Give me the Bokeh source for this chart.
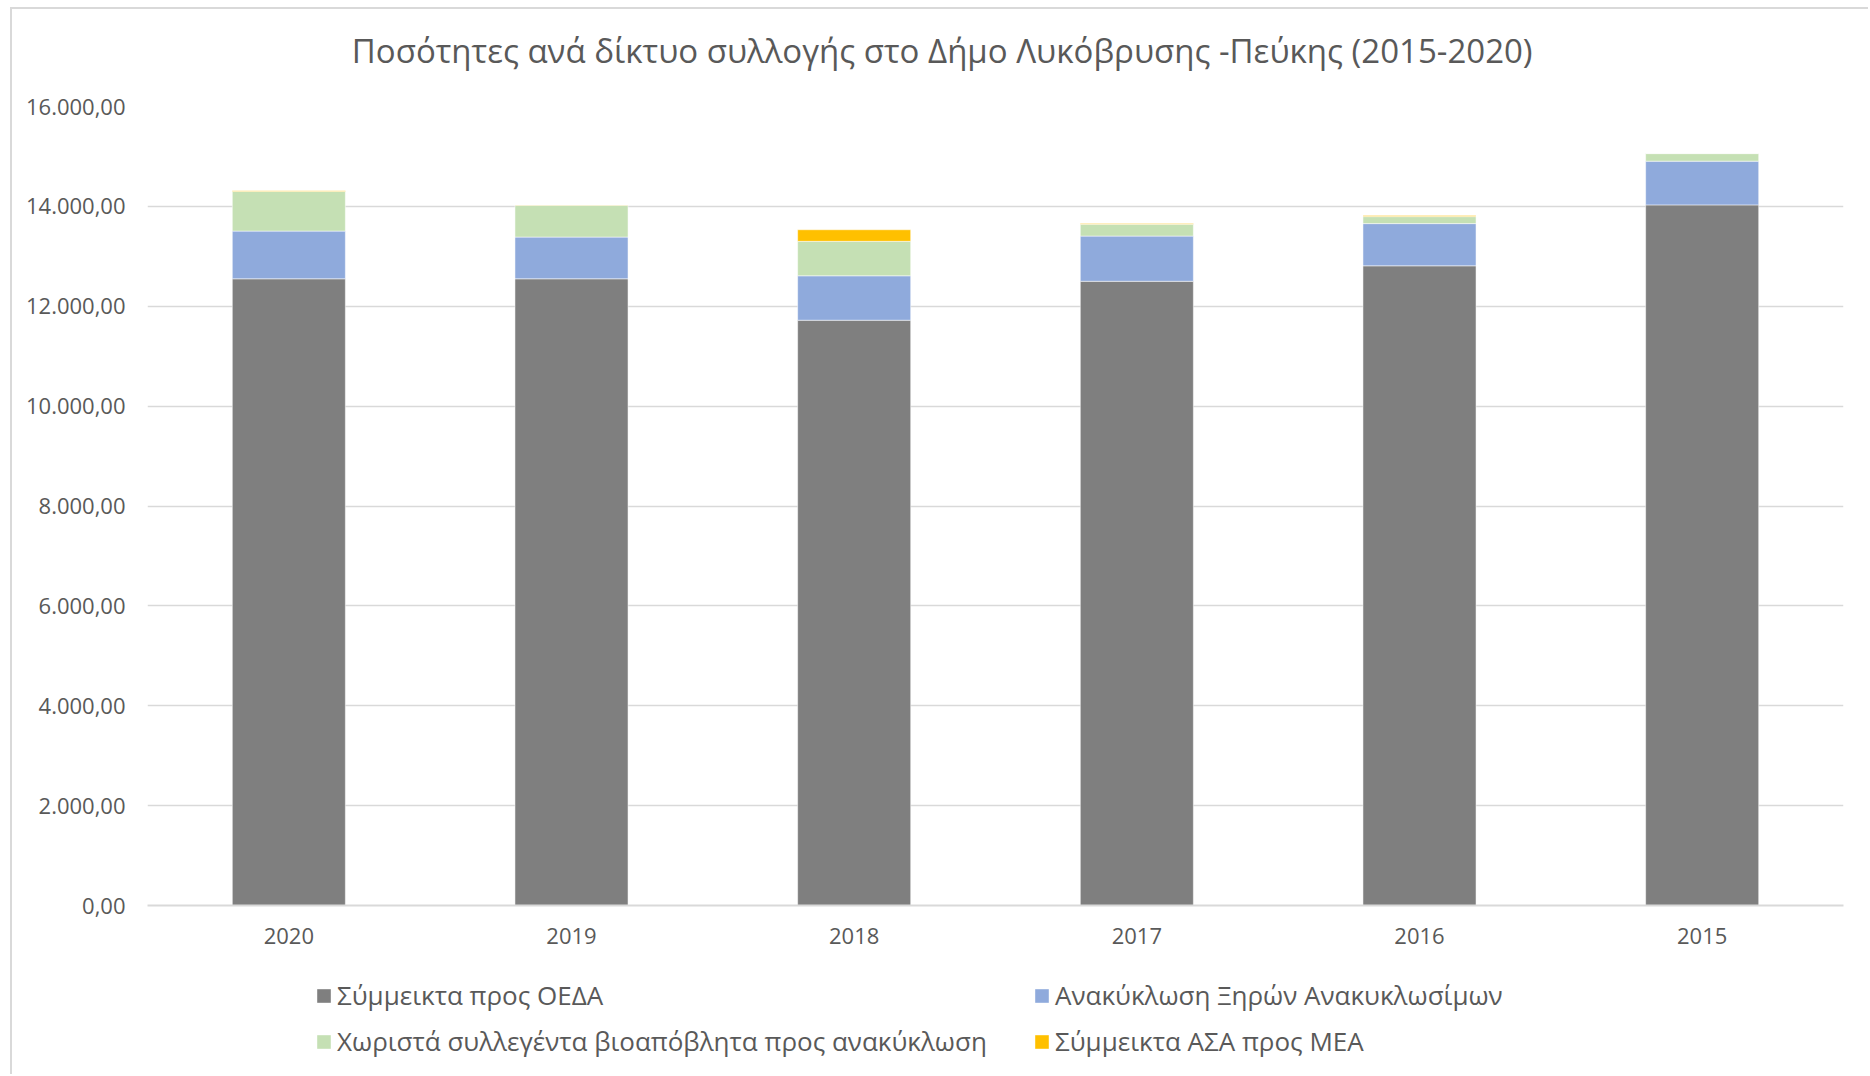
from bokeh.plotting import figure
from bokeh.layouts import column
from bokeh.models import (ColumnDataSource, FactorRange, Range1d, FixedTicker, Legend,
                          LegendItem, Label)
from bokeh.embed import file_html
from bokeh.resources import INLINE

# ---- data ----
years = ["2020", "2019", "2018", "2017", "2016", "2015"]
oeda = [12550, 12550, 11720, 12500, 12810, 14030]      # Σύμμεικτα προς ΟΕΔΑ
recycl = [955, 835, 890, 905, 845, 875]                # Ανακύκλωση Ξηρών Ανακυκλωσίμων
bio = [795, 637, 690, 235, 140, 152]                   # Χωριστά συλλεγέντα βιοαπόβλητα
mea = [12, 5, 232, 15, 20, 0]                          # Σύμμεικτα ΑΣΑ προς ΜΕΑ
series_names = ["Σύμμεικτα προς ΟΕΔΑ", "Ανακύκλωση Ξηρών Ανακυκλωσίμων",
                "Χωριστά συλλεγέντα βιοαπόβλητα προς ανακύκλωση", "Σύμμεικτα ΑΣΑ προς ΜΕΑ"]
y_ticks = [0, 2000, 4000, 6000, 8000, 10000, 12000, 14000, 16000]
y_tick_labels = ["0,00", "2.000,00", "4.000,00", "6.000,00", "8.000,00",
                 "10.000,00", "12.000,00", "14.000,00", "16.000,00"]
title_text = "Ποσότητες ανά δίκτυο συλλογής  στο Δήμο Λυκόβρυσης -Πεύκης (2015-2020)"

stackers = ["oeda", "recycl", "bio", "mea"]
colors = ["#7F7F7F", "#8FAADC", "#C5E0B4", "#FFC000"]
FONT = "Open Sans"
TXT = "#595959"
W = 1856
H_T, H_A, H_B = 82, 874, 109
FRAME_W = 1696   # plot frame width (frames of the stacked figures are aligned)

src = ColumnDataSource(dict(year=years, oeda=oeda, recycl=recycl, bio=bio, mea=mea))


def strip_figure(h, x_range, y_range):
    f = figure(width=W, height=h, x_range=x_range, y_range=y_range,
               x_axis_type=None, y_axis_type=None, output_backend="svg",
               toolbar_location=None, min_border=0)
    f.outline_line_color = None
    f.grid.visible = False
    return f


# ---- title strip ----
pt = strip_figure(H_T, Range1d(0, FRAME_W), Range1d(0, H_T))
pt.add_layout(Label(x=799, y=41, text=title_text, text_font=FONT, text_font_size="33px",
                    text_color=TXT, text_align="center", text_baseline="middle"))

# ---- chart ----
p = figure(width=W, height=H_A, x_range=FactorRange(*years), y_range=Range1d(0, 16000),
           output_backend="svg", toolbar_location=None,
           min_border_left=135, min_border_right=25, min_border_top=15, min_border_bottom=60)
p.outline_line_color = None

renderers = p.vbar_stack(stackers, x="year", width=0.4, color=colors,
                         line_color="white", line_width=1, line_alpha=0.5, source=src)

p.xgrid.grid_line_color = None
p.ygrid.grid_line_color = "#D9D9D9"
p.ygrid.grid_line_width = 1.5
p.yaxis.ticker = FixedTicker(ticks=y_ticks)
p.ygrid.ticker = FixedTicker(ticks=y_ticks)
p.yaxis.major_label_overrides = {t: l for t, l in zip(y_ticks, y_tick_labels)}
p.yaxis.axis_line_color = None
p.yaxis.major_tick_line_color = None
p.yaxis.minor_tick_line_color = None
p.yaxis.major_tick_out = 0
p.yaxis.major_label_standoff = 22
p.yaxis.major_label_text_font = FONT
p.yaxis.major_label_text_font_size = "22px"
p.yaxis.major_label_text_color = TXT

p.xaxis.axis_line_color = "#D9D9D9"
p.xaxis.axis_line_width = 2
p.xaxis.major_tick_line_color = None
p.xaxis.minor_tick_line_color = None
p.xaxis.major_tick_out = 0
p.xaxis.major_label_standoff = 22
p.xaxis.major_label_text_font = FONT
p.xaxis.major_label_text_font_size = "22px"
p.xaxis.major_label_text_color = TXT

# ---- legend strip (zero-width copies of the series; only their legend swatches show) ----
pl = strip_figure(H_B, FactorRange(*years), Range1d(-2, -1))
leg_r = pl.vbar_stack(stackers, x="year", width=0, color=colors, line_color=None, source=src)


def make_legend(idx, vx):
    return Legend(items=[LegendItem(label=series_names[i], renderers=[leg_r[i]]) for i in idx],
                  location=(vx, 15), orientation="vertical",
                  glyph_width=17, glyph_height=17, label_height=35, label_standoff=5,
                  spacing=10, padding=0, margin=0, border_line_color=None,
                  background_fill_alpha=0, label_text_font=FONT,
                  label_text_font_size="26px", label_text_color=TXT)


pl.add_layout(make_legend([0, 2], 168), "center")
pl.add_layout(make_legend([1, 3], 886), "center")

layout = column(pt, p, pl, spacing=0,
                styles={"margin-left": "10px", "margin-top": "7px",
                        "border-top": "2px solid #D9D9D9", "border-left": "2px solid #D9D9D9"})

open("out.html", "w").write(file_html(layout, INLINE))
